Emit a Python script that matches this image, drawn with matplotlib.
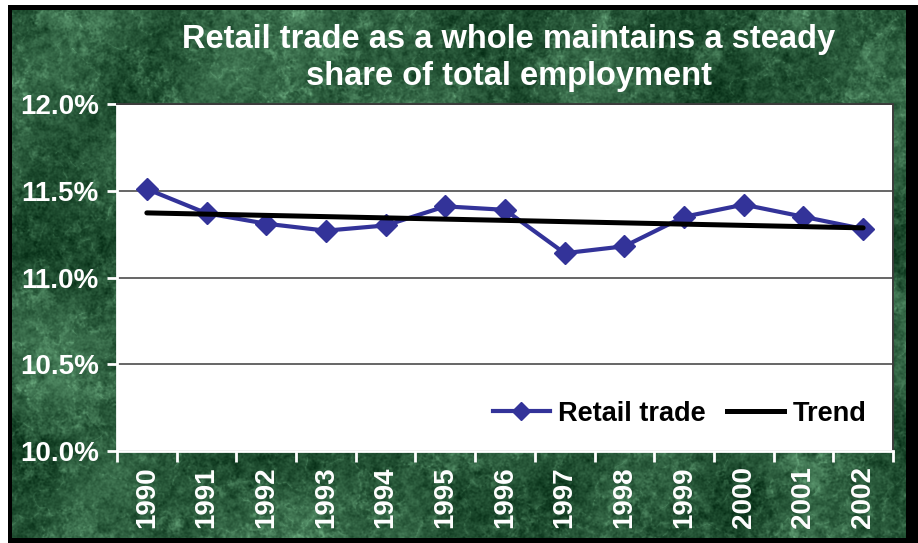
import numpy as np
import matplotlib
matplotlib.use("Agg")
import matplotlib.pyplot as plt
from matplotlib.lines import Line2D

# --- data -------------------------------------------------------------
years = ["1990", "1991", "1992", "1993", "1994", "1995", "1996",
         "1997", "1998", "1999", "2000", "2001", "2002"]
retail_share = [11.51, 11.37, 11.31, 11.27, 11.30, 11.41, 11.39,
                11.14, 11.18, 11.35, 11.42, 11.35, 11.28]
y_ticks = [10.0, 10.5, 11.0, 11.5, 12.0]
y_ticklabels = ["10.0%", "10.5%", "11.0%", "11.5%", "12.0%"]
title = "Retail trade as a whole maintains a steady\nshare of total employment"

W, H = 918, 543
DPI = 100
FONT = ["Liberation Sans", "DejaVu Sans"]


def smooth_noise(rng, shape, sigma):
    """Gaussian-filtered white noise, normalised to zero mean / unit std."""
    n = rng.standard_normal(shape)
    fy = np.fft.fftfreq(shape[0])[:, None]
    fx = np.fft.fftfreq(shape[1])[None, :]
    g = np.exp(-2 * (np.pi * sigma) ** 2 * (fx ** 2 + fy ** 2))
    out = np.real(np.fft.ifft2(np.fft.fft2(n) * g))
    out -= out.mean()
    return out / out.std()


def marble(h, w, seed=5):
    """Dark green mottled marble texture."""
    rng = np.random.default_rng(seed)
    shape = (h, w)
    grain = 0.5 * smooth_noise(rng, shape, 0.8) + 0.5 * smooth_noise(rng, shape, 2.5)
    cloud = smooth_noise(rng, shape, 25)
    mid = smooth_noise(rng, shape, 9)
    ridge = 1 - np.abs(smooth_noise(rng, shape, 10) + 0.4 * smooth_noise(rng, shape, 3)) / 1.2
    streak = np.clip(ridge, 0, 1) ** 5
    patch = np.clip((mid + 0.3 * grain - 0.7) / 1.6, 0, 1)
    t = (0.30 + 0.08 * cloud + 0.09 * grain
         + 0.18 * patch + 0.20 * streak * (0.6 + 0.4 * np.clip(grain, -1, 1)))
    t = np.clip(t, 0, 1)[..., None]
    dark = np.array([6, 46, 22]) / 255
    light = np.array([115, 180, 135]) / 255
    return dark + (light - dark) * t


fig = plt.figure(figsize=(W / DPI, H / DPI), dpi=DPI, facecolor="white")

# slide frame: black shadow with the marble panel on top
frame = fig.add_axes([8 / W, 0, 1 - 8 / W, 1 - 5 / H])
frame.set_facecolor("black")
frame.set_xticks([]); frame.set_yticks([])
for s in frame.spines.values():
    s.set_visible(False)

panel = fig.add_axes([12 / W, 5 / H, (906 - 12) / W, (538 - 10) / H])
panel.imshow(marble(528, 894), aspect="auto", interpolation="bilinear")
panel.set_axis_off()

# --- chart ------------------------------------------------------------
left, right, top, bottom = 117, 893, 104, 451
ax = fig.add_axes([left / W, 1 - bottom / H, (right - left) / W, (bottom - top) / H])
ax.set_facecolor("white")

x = np.arange(len(years))
coef = np.polyfit(x, retail_share, 1)
trend = np.polyval(coef, x)

ax.plot(x, retail_share, color="#333399", lw=3, marker="D", ms=11,
        mec="#333399", mfc="#333399", zorder=3)
ax.plot(x, trend, color="black", lw=3.6, zorder=4, solid_capstyle="round")

ax.set_xlim(-0.5, len(years) - 0.5)
ax.set_ylim(y_ticks[0], y_ticks[-1])
ax.set_yticks(y_ticks)
ax.set_yticklabels(y_ticklabels)
ax.yaxis.grid(True, color="#3c3c3c", lw=1.1)
ax.set_axisbelow(True)

ax.set_xticks(x)
ax.set_xticklabels(years, rotation=90)
ax.set_xticks(np.arange(-0.5, len(years)), minor=True)
ax.tick_params(axis="x", which="major", length=0, pad=11)
ax.tick_params(axis="x", which="minor", length=8, width=2, color="white", direction="out")
ax.tick_params(axis="y", length=7, width=2, color="white", direction="out", pad=6)

for lab in ax.get_xticklabels() + ax.get_yticklabels():
    lab.set_family(FONT)
    lab.set_fontweight("bold")
    lab.set_fontsize(20)
    lab.set_color("white")

for side in ("left", "bottom"):
    ax.spines[side].set_color("white")
    ax.spines[side].set_linewidth(2)
for side in ("top", "right"):
    ax.spines[side].set_color("#3c3c3c")
    ax.spines[side].set_linewidth(1.4)

handles = [
    Line2D([], [], color="#333399", lw=3, marker="D", ms=9),
    Line2D([], [], color="black", lw=3.6),
]
leg = ax.legend(handles, ["Retail trade", "Trend"], ncol=2, frameon=False,
                loc="center right", bbox_to_anchor=((877 - left) / (right - left), 0.107),
                prop={"family": FONT, "weight": "bold", "size": 19.5},
                handlelength=2.1, handletextpad=0.3, columnspacing=0.8,
                borderaxespad=0.0)

fig.text(509 / W, 1 - 58 / H, title, ha="center", va="center",
         color="white", fontsize=23.5, fontweight="bold",
         family=FONT, linespacing=1.28)

fig.savefig("out.png", dpi=DPI, facecolor="white")
